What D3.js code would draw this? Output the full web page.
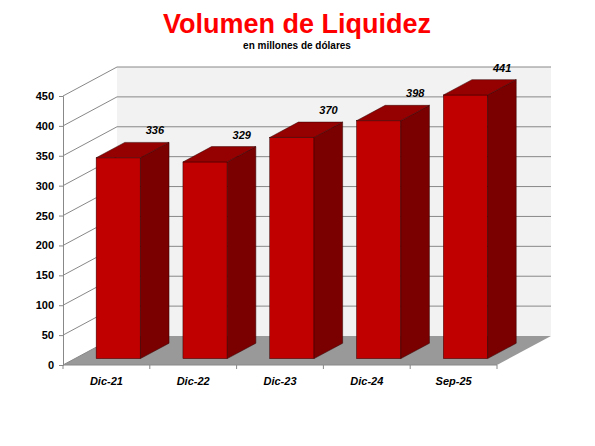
<!DOCTYPE html>
<html><head><meta charset="utf-8">
<script src="https://cdn.jsdelivr.net/npm/d3@7"></script>
<style>body{margin:0;background:#fff}text{font-family:Arial,"Liberation Sans",sans-serif}</style>
</head><body>
<svg id="chart" width="595" height="446"></svg>
<script>
// Chart data
const categories = ["Dic-21", "Dic-22", "Dic-23", "Dic-24", "Sep-25"];
const values = [336, 329, 370, 398, 441];
const yTicks = [0, 50, 100, 150, 200, 250, 300, 350, 400, 450];

const svg = d3.select("#chart");
const x0 = 63, x1 = 497, yBase = 365;
const depthX = 54, depthY = -29;

const x = d3.scaleBand().domain(categories).range([x0, x1]).paddingInner(0.49).paddingOuter(0.245);
const y = d3.scaleLinear().domain([0, 450]).range([yBase, 96]);

// Title
svg.append("text").attr("x", 297).attr("y", 33).attr("text-anchor", "middle")
  .attr("font-size", 27).attr("font-weight", "bold").attr("fill", "#ff0000").text("Volumen de Liquidez");
svg.append("text").attr("x", 297).attr("y", 49).attr("text-anchor", "middle")
  .attr("font-size", 10).attr("font-weight", "bold").text("en millones de dólares");

// Back wall
svg.append("rect").attr("x", x0 + depthX).attr("y", y(450) + depthY)
  .attr("width", x1 - x0).attr("height", y(0) - y(450)).attr("fill", "#f2f2f2");

// Floor
svg.append("path")
  .attr("d", `M${x0},${yBase}L${x1},${yBase}L${x1 + depthX},${yBase + depthY}L${x0 + depthX},${yBase + depthY}Z`)
  .attr("fill", "#999");

// Grid lines (back wall + left side)
const grid = svg.append("g").attr("stroke", "#888").attr("stroke-width", 1).attr("fill", "none");
yTicks.forEach(t => {
  grid.append("path").attr("d", `M${x0},${y(t)}L${x0 + depthX},${y(t) + depthY}` + (t > 0 ? `L${x1 + depthX},${y(t) + depthY}` : ""));
});

// Y axis
const yAxis = svg.append("g").attr("transform", `translate(${x0},0)`)
  .call(d3.axisLeft(y).tickValues(yTicks).tickSize(4).tickPadding(5));
yAxis.select(".domain").attr("stroke", "#888");
yAxis.selectAll("line").attr("stroke", "#888");
yAxis.selectAll("text").attr("font-size", 11).attr("font-weight", "bold").attr("fill", "#000");

// X axis
const xAxis = svg.append("g").attr("transform", `translate(0,${yBase})`);
xAxis.append("line").attr("x1", x0).attr("x2", x1).attr("stroke", "#888");
const step = x.step();
d3.range(categories.length + 1).forEach(i => {
  const px = x0 + i * (x1 - x0) / categories.length;
  xAxis.append("line").attr("x1", px).attr("x2", px).attr("y2", 4).attr("stroke", "#888");
});
xAxis.selectAll(".lbl").data(categories).enter().append("text")
  .attr("x", d => x0 + (categories.indexOf(d) + 0.5) * (x1 - x0) / categories.length)
  .attr("y", 20).attr("text-anchor", "middle")
  .attr("font-size", 11).attr("font-weight", "bold").attr("font-style", "italic").text(d => d);

// Bars (placed partway into the depth)
const bz = 0.22, bd = 0.53;
const bars = svg.append("g").selectAll("g").data(values).enter().append("g");
bars.each(function (v, i) {
  const g = d3.select(this);
  const left = x(categories[i]) + depthX * bz, w = x.bandwidth();
  const bottom = yBase + depthY * bz, top = bottom - (yBase - y(v));
  const dx = depthX * bd, dy = depthY * bd;
  g.append("rect").attr("x", left).attr("y", top).attr("width", w).attr("height", bottom - top)
    .attr("fill", "#c00000").attr("stroke", "#300").attr("stroke-width", 0.5);
  g.append("path").attr("d", `M${left + w},${top}L${left + w + dx},${top + dy}L${left + w + dx},${bottom + dy}L${left + w},${bottom}Z`)
    .attr("fill", "#7a0000").attr("stroke", "#300").attr("stroke-width", 0.5);
  g.append("path").attr("d", `M${left},${top}L${left + dx},${top + dy}L${left + w + dx},${top + dy}L${left + w},${top}Z`)
    .attr("fill", "#950000").attr("stroke", "#300").attr("stroke-width", 0.5);
  g.append("text").attr("x", left + w / 2 + dx + 8).attr("y", top + dy - 8).attr("text-anchor", "middle")
    .attr("font-size", 11).attr("font-weight", "bold").attr("font-style", "italic").text(v);
});
</script>
</body></html>
